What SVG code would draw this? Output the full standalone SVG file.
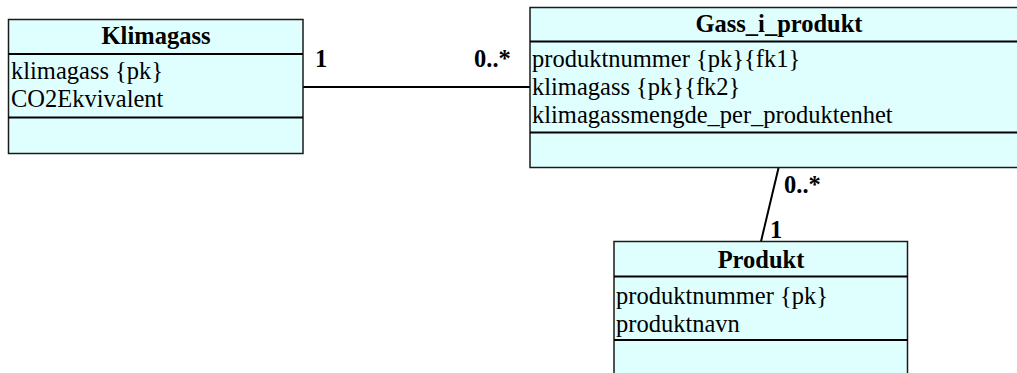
<svg xmlns="http://www.w3.org/2000/svg" width="1017" height="373" viewBox="0 0 1017 373">
<style>
.box{fill:#DFFFFF;stroke:#1a1a1a;stroke-width:1.5}
.sep{stroke:#000;stroke-width:2}
.t{font-family:"Liberation Serif","Times New Roman",serif;font-size:24.5px;fill:#000}
.h{font-weight:bold;text-anchor:middle}
.m{font-family:"Liberation Serif","Times New Roman",serif;font-size:24.5px;font-weight:bold;fill:#000}
.c{stroke:#000;stroke-width:2;fill:none}
</style>
<rect width="1017" height="373" fill="#fff"/>
<g id="connectors">
<line class="c" x1="303" y1="87" x2="530" y2="87"/>
<text class="m" x="315" y="67">1</text>
<text class="m" x="474" y="67">0..*</text>
<line class="c" x1="778.5" y1="168" x2="761" y2="241.5"/>
<text class="m" x="784" y="193">0..*</text>
<text class="m" x="770" y="238">1</text>
</g>
<g id="Klimagass">
<rect class="box" x="8.5" y="19.5" width="294.5" height="134"/>
<line class="sep" x1="8.5" y1="54" x2="303" y2="54"/>
<line class="sep" x1="8.5" y1="117.5" x2="303" y2="117.5"/>
<text class="t h" x="156" y="44">Klimagass</text>
<text class="t" x="11" y="79">klimagass {pk}</text>
<text class="t" x="11" y="106.5">CO2Ekvivalent</text>
</g>
<g id="Gass_i_produkt">
<rect class="box" x="530" y="7.5" width="500" height="160"/>
<line class="sep" x1="530" y1="41.5" x2="1030" y2="41.5"/>
<line class="sep" x1="530" y1="132.5" x2="1030" y2="132.5"/>
<text class="t h" x="779" y="31.5">Gass_i_produkt</text>
<text class="t" x="532" y="66.5">produktnummer {pk}{fk1}</text>
<text class="t" x="532" y="95">klimagass {pk}{fk2}</text>
<text class="t" x="532" y="123">klimagassmengde_per_produktenhet</text>
</g>
<g id="Produkt">
<rect class="box" x="614" y="241.5" width="293.5" height="150"/>
<line class="sep" x1="614" y1="276.5" x2="907.5" y2="276.5"/>
<line class="sep" x1="614" y1="340" x2="907.5" y2="340"/>
<text class="t h" x="761" y="268">Produkt</text>
<text class="t" x="616" y="304">produktnummer {pk}</text>
<text class="t" x="616" y="331.5">produktnavn</text>
</g>
</svg>
